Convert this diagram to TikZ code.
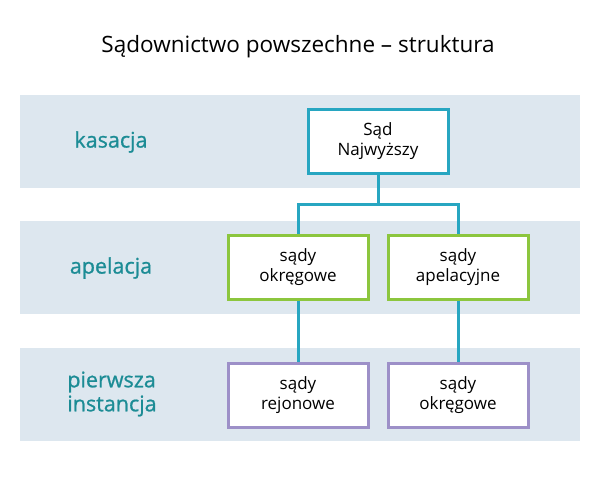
\documentclass[tikz,border=0pt]{standalone}
\usepackage{fontspec}
\setmainfont{Open Sans}
\newfontfamily\semifont{Open Sans}[FakeBold=0.9]
\usetikzlibrary{positioning}
\definecolor{band}{HTML}{DDE7EF}
\definecolor{teal1}{HTML}{27A6C1}
\definecolor{green1}{HTML}{8CC63E}
\definecolor{purple1}{HTML}{9D90C8}
\definecolor{label1}{HTML}{1C8C95}
\tikzset{court/.style={draw,fill=white,line width=3pt,minimum width=140pt,minimum height=64pt,align=center,font=\fontsize{17}{20}\selectfont},
  level/.style={text=label1,align=left,font=\semifont\fontsize{21.5}{24}\selectfont},
  link/.style={draw=teal1,line width=3pt}}
\begin{document}
\begin{tikzpicture}[x=1pt,y=-1pt]
            \useasboundingbox (0,0) rectangle (600,480);
            \fill[band] (20,95) rectangle (580,188);
            \fill[band] (20,221) rectangle (580,314);
            \fill[band] (20,348) rectangle (580,441);
            \node[font=\fontsize{22.5}{26}\selectfont] (title) at (298,47) {Sądownictwo powszechne – struktura};
            \node[level] (kas) at (111,142) {kasacja};
            \node[level] (apel) at (111,268) {apelacja};
            \node[level] (inst) at (112,394) {pierwsza\\instancja};
            \node[court,draw=teal1] (sn) at (378,141) {Sąd\\Najwyższy};
            \node[court,draw=green1] (okr) at (298,267) {sądy\\okręgowe};
            \node[court,draw=green1] (apc) at (458,267) {sądy\\apelacyjne};
            \node[court,draw=purple1] (rej) at (298,395) {sądy\\rejonowe};
            \node[court,draw=purple1] (okr1) at (458,395) {sądy\\okręgowe};
            \coordinate (split) at (378,204);
            \draw[link] (sn.south) -- (split) -| (okr.north);
            \draw[link] (split) -| (apc.north);
            \draw[link] (okr.south) -- (rej.north);
            \draw[link] (apc.south) -- (okr1.north);
\end{tikzpicture}
\end{document}
